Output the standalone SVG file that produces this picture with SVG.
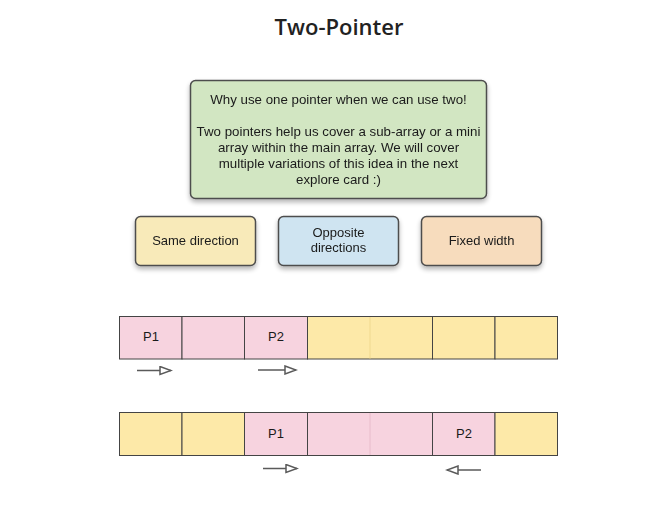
<svg xmlns="http://www.w3.org/2000/svg" width="649" height="505" viewBox="0 0 649 505">
<defs>
<filter id="sh" x="-10%" y="-10%" width="130%" height="140%">
<feGaussianBlur in="SourceAlpha" stdDeviation="2.5"/>
<feOffset dx="0" dy="3" result="b"/>
<feComponentTransfer><feFuncA type="linear" slope="0.3"/></feComponentTransfer>
<feMerge><feMergeNode/><feMergeNode in="SourceGraphic"/></feMerge>
</filter>
<marker id="ah" markerWidth="14" markerHeight="10" refX="12" refY="5" orient="auto" markerUnits="userSpaceOnUse">
<path d="M1,1 L12,5 L1,9 Z" fill="#fff" stroke="#5a5a5a" stroke-width="1.5"/>
</marker>
</defs>
<style>
.t{font-family:"Liberation Sans",Arial,sans-serif;font-size:13px;fill:#1a1a1a;text-anchor:middle}
.ti{font-size:13.3px}
.box{stroke:#4d4d4d;stroke-width:1.5}
.cell{stroke:#444;stroke-width:1}
.pink{fill:#f7d3df}
.yel{fill:#fde9a8}
.conn{stroke:#5a5a5a;stroke-width:1.5;fill:none;marker-end:url(#ah)}
</style>
<rect width="649" height="505" fill="#fff"/>
<text x="339" y="35" style="font-family:'Open Sans','Noto Sans',sans-serif;font-size:22px;font-weight:600;fill:#222;text-anchor:middle">Two-Pointer</text>

<g id="intro" filter="url(#sh)">
<rect class="box" x="190.5" y="80.5" width="296" height="118" rx="5" fill="#d2e6c2"/>
<text class="t ti" x="338.5" y="103.5">Why use one pointer when we can use two!</text>
<text class="t ti" x="338.5" y="135.5">Two pointers help us cover a sub-array or a mini</text>
<text class="t ti" x="338.5" y="151.5">array within the main array. We will cover</text>
<text class="t ti" x="338.5" y="167.5">multiple variations of this idea in the next</text>
<text class="t ti" x="338.5" y="183.5">explore card :)</text>
</g>

<g id="same" filter="url(#sh)">
<rect class="box" x="135.5" y="216.5" width="120" height="49" rx="5" fill="#f8eab9"/>
<text class="t" x="195.5" y="245">Same direction</text>
</g>
<g id="opposite" filter="url(#sh)">
<rect class="box" x="278.5" y="216.5" width="120" height="49" rx="5" fill="#cfe4f1"/>
<text class="t" x="338.5" y="237">Opposite</text>
<text class="t" x="338.5" y="252">directions</text>
</g>
<g id="fixed" filter="url(#sh)">
<rect class="box" x="421.5" y="216.5" width="120" height="49" rx="5" fill="#f7dcbd"/>
<text class="t" x="481.5" y="245">Fixed width</text>
</g>

<g id="array1">
<rect class="cell pink" x="119.5" y="316.5" width="62.5" height="42.5"/>
<rect class="cell pink" x="182" y="316.5" width="62.5" height="42.5"/>
<rect class="cell pink" x="244.5" y="316.5" width="63" height="42.5"/>
<rect class="cell yel" x="307.5" y="316.5" width="125" height="42.5"/>
<line x1="370" y1="317" x2="370" y2="358.5" stroke="#f0d98f" stroke-width="1"/>
<rect class="cell yel" x="432.5" y="316.5" width="62.5" height="42.5"/>
<rect class="cell yel" x="495" y="316.5" width="62.5" height="42.5"/>
<text class="t" x="151" y="341">P1</text>
<text class="t" x="276" y="341">P2</text>
</g>

<g id="array2">
<rect class="cell yel" x="119.5" y="412.5" width="62.5" height="43"/>
<rect class="cell yel" x="182" y="412.5" width="62.5" height="43"/>
<rect class="cell pink" x="244.5" y="412.5" width="63" height="43"/>
<rect class="cell pink" x="307.5" y="412.5" width="125" height="43"/>
<line x1="370" y1="413" x2="370" y2="455" stroke="#e8bccb" stroke-width="1"/>
<rect class="cell pink" x="432.5" y="412.5" width="62.5" height="43"/>
<rect class="cell yel" x="495" y="412.5" width="62.5" height="43"/>
<text class="t" x="276" y="438">P1</text>
<text class="t" x="464" y="438">P2</text>
</g>

<g id="connectors">
<line class="conn" x1="137" y1="370.5" x2="171" y2="370.5"/>
<line class="conn" x1="258" y1="370" x2="296" y2="370"/>
<line class="conn" x1="263" y1="468.5" x2="297" y2="468.5"/>
<line class="conn" x1="481" y1="470" x2="447" y2="470"/>
</g>
</svg>
